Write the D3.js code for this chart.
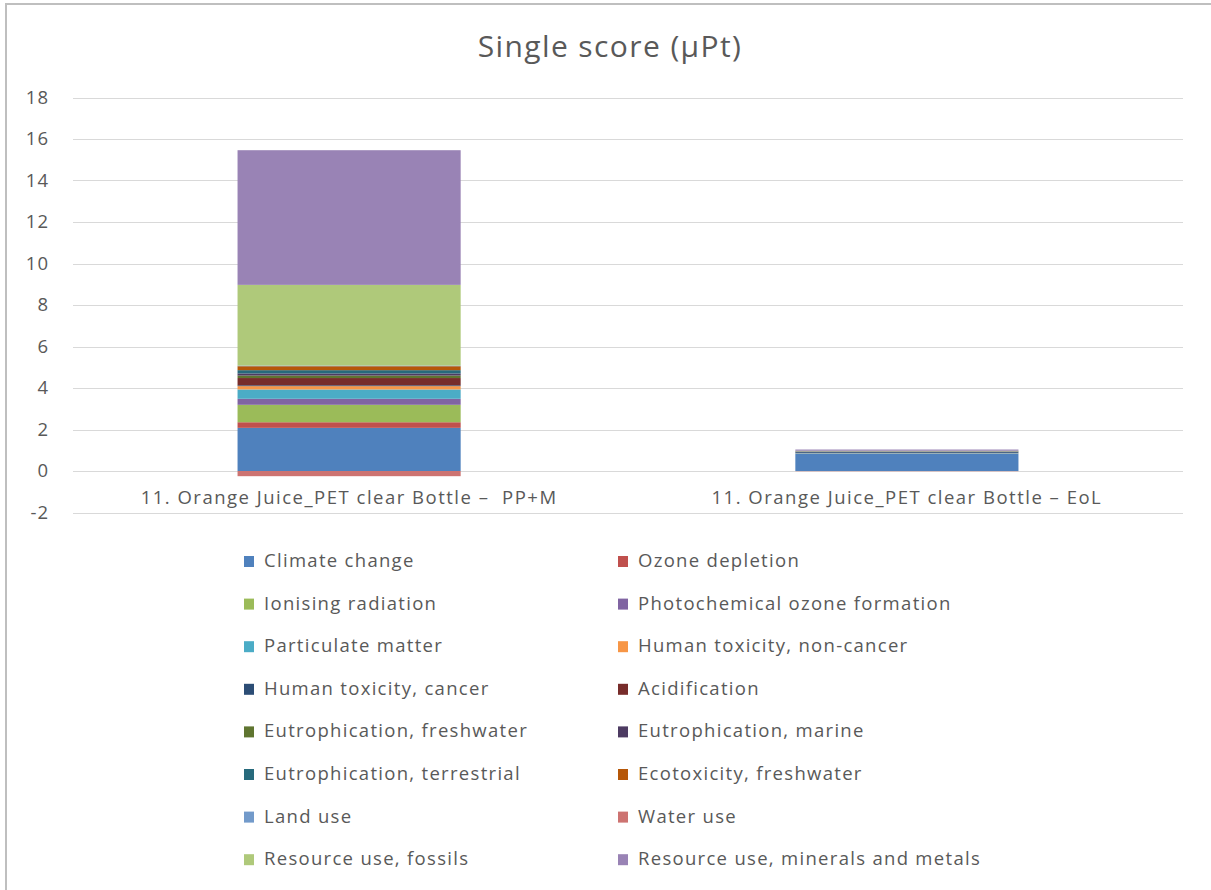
<!DOCTYPE html>
<html>
<head>
<meta charset="utf-8">
<script src="https://cdn.jsdelivr.net/npm/d3@7"></script>
<style>
  html, body { margin: 0; padding: 0; background: #ffffff; }
  svg { display: block; }
  text { font-family: "Open Sans", "Noto Sans", sans-serif; fill: #595959; white-space: pre; }
</style>
</head>
<body>
<svg id="chart" width="1211" height="890"></svg>
<script>
// Products compared (x categories)
const categories = [
  "11. Orange Juice_PET clear Bottle \u2013  PP+M",
  "11. Orange Juice_PET clear Bottle \u2013 EoL"
];

// Impact categories, in stacking order
const impacts = [
  "Climate change", "Ozone depletion", "Ionising radiation", "Photochemical ozone formation",
  "Particulate matter", "Human toxicity, non-cancer", "Human toxicity, cancer", "Acidification",
  "Eutrophication, freshwater", "Eutrophication, marine", "Eutrophication, terrestrial", "Ecotoxicity, freshwater",
  "Land use", "Water use", "Resource use, fossils", "Resource use, minerals and metals"
];

const impactColors = [
  "#4F81BD", "#C0504D", "#9BBB59", "#8064A2",
  "#4BACC6", "#F79646", "#2C4D75", "#772C2A",
  "#5F7530", "#4D3B62", "#276A7C", "#B65708",
  "#729ACA", "#CD7371", "#AFC97A", "#9983B5"
];

// Single score per impact category (µPt), same order as impacts
const valuesPPM = [2.08, 0.27, 0.84, 0.29, 0.45, 0.16, 0.04, 0.35, 0.12, 0.10, 0.16, 0.19, 0.03, -0.25, 3.89, 6.49];
const valuesEoL = [0.84, 0.005, 0.01, 0.005, 0.01, 0.005, 0.05, 0.005, 0.005, 0.005, 0.005, 0.005, 0.005, -0.01, 0.02, 0.06];

const yTicks = [-2, 0, 2, 4, 6, 8, 10, 12, 14, 16, 18];
const titleText = "Single score (\u00b5Pt)";

// Build rows for d3.stack
const seriesValues = [valuesPPM, valuesEoL];
const rows = categories.map((c, i) => {
  const r = { category: c };
  impacts.forEach((k, j) => { r[k] = seriesValues[i][j]; });
  return r;
});

const svg = d3.select("#chart");

// Outer chart frame
svg.append("rect")
  .attr("x", 6).attr("y", 4)
  .attr("width", 1230).attr("height", 900)
  .attr("fill", "#ffffff")
  .attr("stroke", "#bfbfbf").attr("stroke-width", 2);

const plot = { left: 73, right: 1183, top: 97.5, bottom: 512.5 };

const y = d3.scaleLinear().domain([-2, 18]).range([plot.bottom, plot.top]);
const x = d3.scaleBand().domain(categories)
  .range([plot.left, plot.right])
  .paddingInner(0.6).paddingOuter(0.295);

// Title
svg.append("text")
  .attr("x", 610).attr("y", 57)
  .attr("text-anchor", "middle")
  .attr("font-size", 30)
  .attr("letter-spacing", 1.4)
  .text(titleText);

// Gridlines
svg.append("g")
  .selectAll("line")
  .data(yTicks)
  .join("line")
  .attr("x1", plot.left).attr("x2", plot.right)
  .attr("y1", d => Math.round(y(d)) + 0.5).attr("y2", d => Math.round(y(d)) + 0.5)
  .attr("stroke", "#d9d9d9").attr("stroke-width", 1);

// Y axis labels
const yAxis = d3.axisLeft(y).tickValues(yTicks).tickSize(0).tickPadding(0)
  .tickFormat(d => d < 0 ? "-" + Math.abs(d) : String(d));
const yg = svg.append("g").attr("transform", `translate(${plot.left - 24},0)`).call(yAxis);
yg.select(".domain").remove();
yg.selectAll("text")
  .attr("font-size", 18.5)
  .attr("letter-spacing", 1)
  .attr("font-family", "'Open Sans', sans-serif")
  .attr("fill", "#595959");

// Stacked bars
const stack = d3.stack().keys(impacts).offset(d3.stackOffsetDiverging);
const layers = stack(rows);

svg.append("g")
  .selectAll("g")
  .data(layers)
  .join("g")
  .attr("fill", (d, i) => impactColors[i])
  .selectAll("rect")
  .data(d => d)
  .join("rect")
  .attr("x", d => x(d.data.category))
  .attr("width", x.bandwidth())
  .attr("y", d => y(Math.max(d[0], d[1])))
  .attr("height", d => Math.abs(y(d[0]) - y(d[1])));

// Category labels
svg.append("g")
  .selectAll("text")
  .data(categories)
  .join("text")
  .attr("x", d => x(d) + x.bandwidth() / 2)
  .attr("y", 504)
  .attr("text-anchor", "middle")
  .attr("font-size", 18.5)
  .attr("letter-spacing", 1.5)
  .text(d => d);

// Legend in two columns
const legend = svg.append("g");
const legItems = legend.selectAll("g")
  .data(impacts)
  .join("g")
  .attr("transform", (d, i) => `translate(${i % 2 === 0 ? 244 : 618},${560 + Math.floor(i / 2) * 42.6})`);

legItems.append("rect")
  .attr("x", 0).attr("y", -4)
  .attr("width", 10).attr("height", 11)
  .attr("fill", (d, i) => impactColors[i]);

legItems.append("text")
  .attr("x", 20).attr("y", 7)
  .attr("font-size", 18.5)
  .attr("letter-spacing", 1.3)
  .text(d => d);
</script>
</body>
</html>
